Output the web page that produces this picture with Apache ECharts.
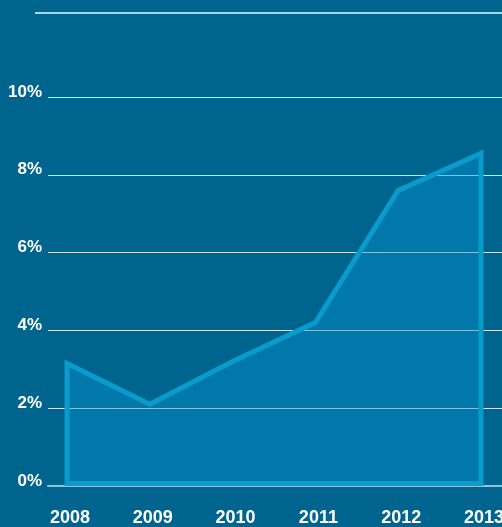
<!DOCTYPE html>
<html>
<head>
<meta charset="utf-8">
<script src="https://cdn.jsdelivr.net/npm/echarts@6/dist/echarts.min.js"></script>
<style>html,body{margin:0;padding:0;background:#00658e;}#c{width:502px;height:527px;}</style>
</head>
<body>
<div id="c"></div>
<script>
const years = [2008, 2009, 2010, 2011, 2012, 2013];
const values = [3.15, 2.1, 3.2, 4.2, 7.6, 8.55];
const yTicks = [0, 2, 4, 6, 8, 10];

const chart = echarts.init(document.getElementById('c'), null, {renderer: 'canvas'});
const data = years.map((y, i) => [y, values[i]]);

chart.setOption({
  backgroundColor: '#00658e',
  animation: false,
  grid: {left: 48, right: 0, top: 97, bottom: 41, outerBoundsMode: 'none', containLabel: false},
  xAxis: {
    type: 'value',
    min: 2007.77,
    max: 2013.254,
    splitLine: {show: false},
    axisTick: {show: false},
    axisLine: {show: true, lineStyle: {color: '#8cc6de', width: 2}},
    axisLabel: {
      customValues: years,
      formatter: v => String(v),
      color: '#ffffff',
      fontFamily: 'Liberation Sans, Arial, sans-serif',
      fontWeight: 'bold',
      fontSize: 18,
      margin: 23,
      padding: [0, 0, 0, 6]
    }
  },
  yAxis: {
    type: 'value',
    min: 0,
    max: 10,
    interval: 2,
    axisLine: {show: false},
    axisTick: {show: false},
    splitLine: {show: true, lineStyle: {color: '#cfe3ec', width: 1}},
    axisLabel: {
      formatter: v => yTicks.includes(v) ? v + '%' : '',
      color: '#ffffff',
      fontFamily: 'Liberation Sans, Arial, sans-serif',
      fontWeight: 'bold',
      fontSize: 17,
      margin: 6,
      verticalAlign: 'bottom',
      lineHeight: 10
    }
  },
  graphic: [{
    type: 'line',
    shape: {x1: 35, y1: 13, x2: 502, y2: 13},
    style: {stroke: '#a9d5ea', lineWidth: 2}
  }],
  series: [{
    type: 'custom',
    coordinateSystem: 'cartesian2d',
    encode: {x: 0, y: 1},
    data: data,
    z: 1,
    renderItem: function (params, api) {
      if (params.dataIndex !== 0) return null;
      const pts = data.map(d => api.coord(d));
      const last = api.coord([years[years.length - 1], 0]);
      const first = api.coord([years[0], 0]);
      const pts2 = pts.concat([[last[0], last[1] - 2.5], [first[0], first[1] - 2.5]]);
      return {
        type: 'polygon',
        shape: {points: pts2},
        style: {
          fill: 'rgba(0,150,210,0.4)',
          stroke: '#0a9bcd',
          lineWidth: 5,
          lineJoin: 'miter'
        }
      };
    }
  }]
});
</script>
</body>
</html>
